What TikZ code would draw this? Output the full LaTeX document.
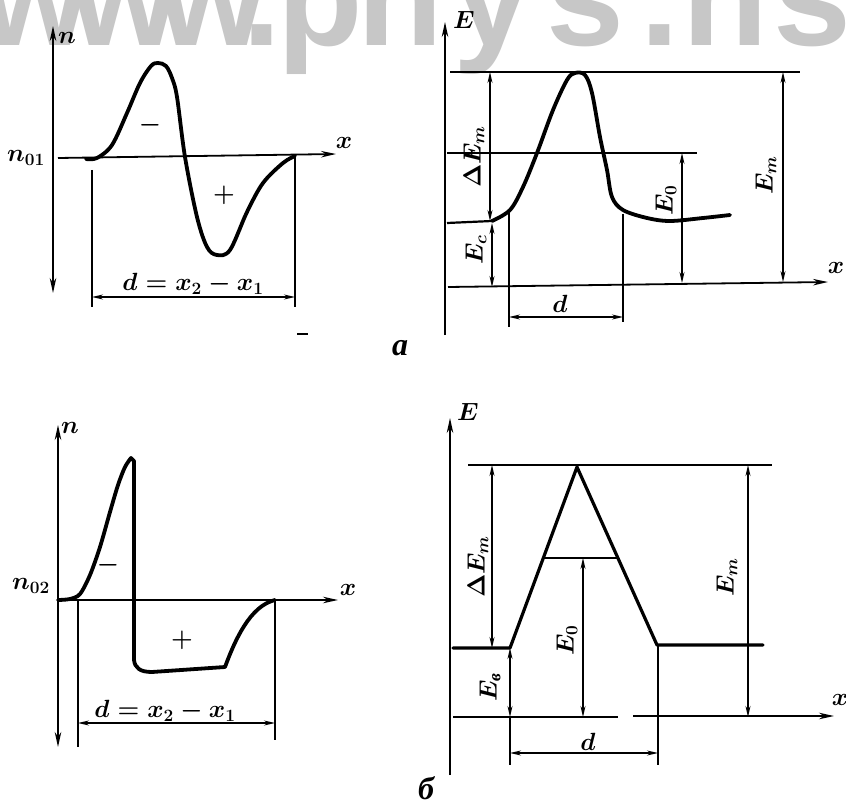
\documentclass[tikz,border=0pt]{standalone}
\usepackage{amsmath}
\usepackage{fontspec}
\newfontfamily\cyr{Liberation Serif}
\newfontfamily\wmfont{Liberation Sans}
\usetikzlibrary{arrows.meta}
\begin{document}
\begin{tikzpicture}[x=1pt,y=-1pt,
  lbl/.style={font=\fontsize{25}{28}\selectfont\boldmath, inner sep=0pt},
  sgn/.style={font=\fontsize{38}{38}\selectfont\boldmath, inner sep=0pt},
  ln/.style={line width=1.7pt},
  ax/.style={line width=1.8pt},
  crv/.style={line width=3.8pt, line cap=round, line join=round},
  crvb/.style={line width=3.2pt, line cap=round, line join=round},
  dim/.style={line width=1.5pt, {Stealth[length=11pt,width=5pt]}-{Stealth[length=11pt,width=5pt]}},
  axtip/.style={-{Stealth[length=15pt,width=6.5pt]}},
  axboth/.style={{Stealth[length=15pt,width=6.5pt]}-{Stealth[length=15pt,width=6.5pt]}}
]
\path[use as bounding box] (0,0) rectangle (846,805);
\fill[white] (0,0) rectangle (846,805);

% watermark
\begin{scope}
\clip (0,0) rectangle (846,805);
\foreach \ch/\xx in {w/35,w/125,w/212,./262,p/320,h/400,y/492,s/585,./660,n/725,s/812}
  \node[anchor=base, text=black!22, font=\wmfont\bfseries\fontsize{140}{140}\selectfont, inner sep=0pt] (wm-\xx) at (\xx,46) {\ch};
\end{scope}

% ---------- top left ----------
\draw[ax,axboth] (53,293) -- (53,26);
\draw[ax,axtip] (58,158) -- (336,154);
\node[lbl] (xa1) at (344,143) {$x$};
\node[lbl] (na1) at (67,38) {$n$};
\node[lbl] (n01) at (26,158) {$n_{01}$};
\draw[crv] plot[smooth, tension=0.55] coordinates {(86,159) (97,158) (112,145) (127,113) (140,83) (151,66) (158,63) (166,66) (172,78) (177,97) (185,157) (197,217) (207,247) (217,255) (230,250) (247,212) (263,183) (283,163) (295,156)};
\draw[ln] (92,170) -- (92,307);
\draw[ln] (295,157) -- (295,307);
\draw[dim] (92,297) -- (295,297);
\node[lbl] (da1) at (193,284) {$d=x_2-x_1$};
\node[sgn] (mi1) at (150,125) {$-$};
\node[sgn] (pl1) at (224,195) {$+$};
\draw[line width=1.8pt] (297,334) -- (308,334);

% ---------- top right ----------
\draw[ax,axtip] (445,335) -- (445,22);
\node[lbl] (Ea) at (464,20) {$E$};
\draw[ln] (450,72) -- (800,72);
\draw[ln] (447,153) -- (697,153);
\draw[line width=2.2pt] (447,223) -- (492,221);
\draw[crv] plot[smooth,tension=0.55] coordinates {(492,221) (510,210) (523,187) (537,153) (553,110) (567,80) (575,73) (585,75) (592,93) (600,137) (607,170) (612,197) (623,210) (647,218) (670,221) (703,218) (730,215)};
\draw[ax,axtip] (448,287) -- (828,282);
\node[lbl] (xa2) at (836,268) {$x$};
\draw[dim] (490,72) -- (490,221);
\draw[dim] (492,223) -- (492,287);
\draw[dim] (682,153) -- (682,283);
\draw[dim] (783,72) -- (783,282);
\draw[ln] (509,210) -- (509,327);
\draw[ln] (623,214) -- (623,322);
\draw[dim] (509,317) -- (623,317);
\node[lbl,rotate=90] (dEm1) at (474,157) {$\Delta E_m$};
\node[lbl,rotate=90] (Ec1) at (476,250) {$E_c$};
\node[lbl,rotate=90] (E01) at (666,200) {$E_0$};
\node[lbl,rotate=90] (Em1) at (766,175) {$E_m$};
\node[lbl] (d1) at (560,304) {$d$};
\node[inner sep=0pt,font=\cyr\bfseries\itshape\fontsize{32}{32}\selectfont] (la) at (400,348) {а};

% ---------- bottom left ----------
\draw[ax,axboth] (58,747) -- (58,425);
\node[lbl] (nb) at (70,428) {$n$};
\draw[ax,axtip] (58,600) -- (338,600);
\node[lbl] (xb1) at (348,590) {$x$};
\node[lbl] (n02) at (31,586) {$n_{02}$};
\draw[crv] plot[smooth,tension=0.5] coordinates {(58,600) (70,599) (80,594) (90,575) (100,547) (110,512) (118,485) (125,467) (131,458)} -- (134,461) -- (134,660) .. controls (135,668) and (140,672) .. (152,672) -- (225,667) .. controls (235,640) and (250,606) .. (275,600);
\draw[ln] (78,600) -- (78,747);
\draw[ln] (275,600) -- (275,740);
\draw[dim] (78,723) -- (275,723);
\node[lbl] (db) at (165,711) {$d=x_2-x_1$};
\node[sgn] (mi2) at (108,565) {$-$};
\node[sgn] (pl2) at (182,640) {$+$};

% ---------- bottom right ----------
\draw[ax,axtip] (450,775) -- (450,418);
\node[lbl] (Eb) at (468,412) {$E$};
\draw[ln] (468,465) -- (772,465);
\draw[crvb] (453,648) -- (510,648) -- (577,467) -- (657,645) -- (763,645);
\draw[ln] (545,558) -- (618,558);
\draw[ax] (453,717) -- (618,717);
\draw[ax,axtip] (633,716) -- (834,716);
\node[lbl] (xb2) at (840,700) {$x$};
\draw[dim] (492,465) -- (492,648);
\draw[dim] (510,648) -- (510,717);
\draw[dim] (583,558) -- (583,717);
\draw[dim] (748,465) -- (748,717);
\draw[ln] (510,717) -- (510,765);
\draw[ln] (658,645) -- (658,765);
\draw[dim] (510,753) -- (658,753);
\node[lbl,rotate=90] (dEm2) at (478,567) {$\Delta E_m$};
\node[lbl,rotate=90] (Ev2) at (490,687) {$E_{\text{\cyr\bfseries\itshape в}}$};
\node[lbl,rotate=90] (E02) at (567,640) {$E_0$};
\node[lbl,rotate=90] (Em2) at (727,577) {$E_m$};
\node[lbl] (d2) at (588,742) {$d$};
\node[inner sep=0pt,font=\cyr\bfseries\itshape\fontsize{32}{32}\selectfont] (lb) at (426,788) {б};
\end{tikzpicture}
\end{document}
